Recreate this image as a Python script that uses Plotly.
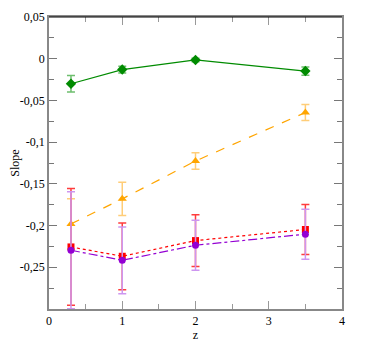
import plotly.graph_objects as go

# --- data ---
z = [0.3, 1.0, 2.0, 3.5]

green_y = [-0.030, -0.013, -0.0015, -0.0148]
green_err = [0.010, 0.004, 0.002, 0.005]

orange_y = [-0.198, -0.168, -0.1226, -0.0645]
orange_err = [0.030, 0.020, 0.010, 0.0095]

red_y = [-0.2256, -0.2368, -0.218, -0.2047]
red_err = [0.070, 0.040, 0.031, 0.030]

violet_y = [-0.2296, -0.2416, -0.2236, -0.2103]
violet_err = [0.070, 0.040, 0.030, 0.030]

ytick_vals = [0.05, 0.0, -0.05, -0.1, -0.15, -0.2, -0.25]
ytick_text = ["0,05", "0", "-0,05", "-0,1", "-0,15", "-0,2", "-0,25"]
xtick_vals = [0, 1, 2, 3, 4]

SERIES = [
    # (y, err, line colour, error colour, dash, marker symbol, marker size)
    (green_y, green_err, "rgb(0,139,0)", "rgb(110,190,110)", "solid", "diamond", 8),
    (orange_y, orange_err, "rgb(255,165,0)", "rgb(255,205,120)", "dash", "triangle-up", 8),
    (red_y, red_err, "rgb(255,0,0)", "rgb(255,60,60)", "dot", "square", 7),
    (violet_y, violet_err, "rgb(148,0,211)", "rgb(205,150,240)", "dashdot", "circle", 7),
]

fig = go.Figure()
for y, err, col, ecol, dash, sym, size in SERIES:
    fig.add_trace(
        go.Scatter(
            x=z,
            y=y,
            mode="lines+markers",
            line=dict(color=col, width=1.2, dash=dash),
            marker=dict(symbol=sym, size=size, color=col),
            error_y=dict(type="data", array=err, color=ecol, thickness=1.5, width=4),
            showlegend=False,
        )
    )

font = dict(family="Liberation Serif", size=12, color="black")

# the page body adds an 8px offset, margins below account for it
fig.update_layout(
    width=366,
    height=349,
    paper_bgcolor="white",
    plot_bgcolor="white",
    margin=dict(l=41, r=32, t=9, b=48, autoexpand=False),
    font=font,
    xaxis=dict(
        range=[0, 4],
        tickvals=xtick_vals,
        ticks="inside",
        ticklen=8,
        tickcolor="#999999",
        tickfont=font,
        showline=True,
        linecolor="#888888",
        linewidth=1.5,
        mirror="allticks",
        showgrid=False,
        zeroline=False,
        automargin=False,
        minor=dict(dtick=0.5, ticks="inside", ticklen=5, tickcolor="#999999"),
        title=dict(text="z", standoff=0, font=font),
    ),
    yaxis=dict(
        range=[-0.30, 0.05],
        tickvals=ytick_vals,
        ticktext=ytick_text,
        ticks="inside",
        ticklen=8,
        tickcolor="#777777",
        tickfont=font,
        showline=True,
        linecolor="#888888",
        linewidth=1.5,
        mirror="allticks",
        showgrid=False,
        zeroline=False,
        automargin=False,
        minor=dict(dtick=0.025, ticks="inside", ticklen=5, tickcolor="#777777"),
        title=dict(text="Slope", standoff=6, font=font),
    ),
    shapes=[
        dict(type="line", xref="paper", yref="paper", x0=0, x1=1, y0=1, y1=1,
             line=dict(color="black", width=1)),
    ],
)

fig.write_html("out.html")
